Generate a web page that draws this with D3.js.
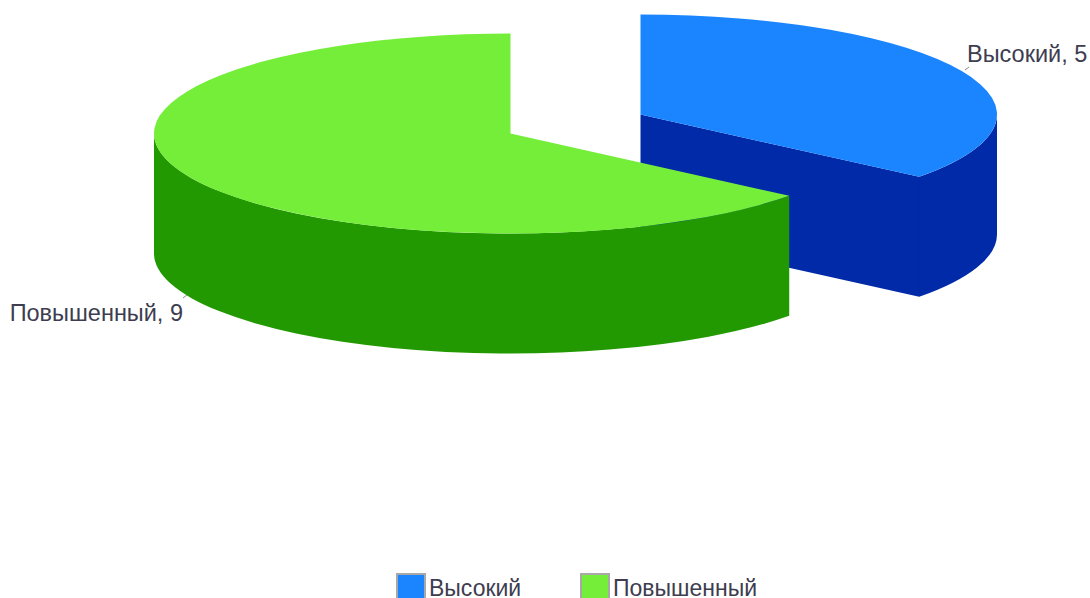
<!DOCTYPE html>
<html><head><meta charset="utf-8">
<script src="https://cdnjs.cloudflare.com/ajax/libs/d3/7.8.5/d3.min.js"></script>
<style>html,body{margin:0;padding:0;background:#fff;overflow:hidden}svg{display:block}text{font-family:"Liberation Sans",Arial,sans-serif;fill:#3d3d4f}</style>
</head><body><svg id="c" width="1090" height="598"></svg>
<script>
const categories = ["Высокий", "Повышенный"];
const seriesValues = [5, 9];
const topColors = ["#1a85ff", "#75ee3a"];
const sideColors = ["#002aa8", "#229900"];

const W = 1090, H = 598, rx = 356.5, ry = 100, depth = 120;
const centers = [[640.5, 114.5], [510.5, 133.5]];
const labelPos = [[967, 62, "start"], [183, 320.5, "end"]];
const leaders = [[[965, 70], [969, 67]], [[183, 298], [187, 295]]];
const legendX = [396, 580];

const svg = d3.select("#c");
const arcs = d3.pie().sort(null).startAngle(0).endAngle(2 * Math.PI)(seriesValues);
const sx = d3.scaleLinear().domain([-1, 1]).range([-rx, rx]);
const sy = d3.scaleLinear().domain([-1, 1]).range([-ry, ry]);
const pt = a => [sx(Math.sin(a)), sy(-Math.cos(a))];

arcs.forEach((d, i) => {
  const [cx, cy] = centers[i];
  const g = svg.append("g").attr("transform", `translate(${cx},${cy})`);
  const wallPath = d3.path();

  // inner wall on the end of the slice that faces the viewer
  if (i === 0) {
    const e = pt(d.endAngle);
    wallPath.moveTo(0, 0); wallPath.lineTo(e[0], e[1]); wallPath.lineTo(e[0], e[1] + depth); wallPath.lineTo(0, depth); wallPath.closePath();
  }
  let wall = wallPath.toString();

  // outer wall: front half of the ellipse within the slice
  const a0 = Math.max(d.startAngle, Math.PI / 2);
  const a1 = Math.min(d.endAngle, 3 * Math.PI / 2);
  if (a1 > a0) {
    const s = pt(a0), e = pt(a1), large = (a1 - a0) > Math.PI ? 1 : 0;
    wall += `M${s[0]},${s[1]}A${rx},${ry} 0 ${large} 1 ${e[0]},${e[1]}` +
      `L${e[0]},${e[1] + depth}A${rx},${ry} 0 ${large} 0 ${s[0]},${s[1] + depth}Z`;
  }
  g.append("path").attr("d", wall).attr("fill", sideColors[i]);
  // seam cover where the inner and outer walls meet
  if (i === 0) {
    const e = pt(d.endAngle);
    g.append("line").attr("x1", e[0]).attr("y1", e[1]).attr("x2", e[0]).attr("y2", e[1] + depth - 1)
      .attr("stroke", sideColors[i]).attr("stroke-width", 1.5);
  }

  // top face
  const arc = d3.arc().innerRadius(0).outerRadius(rx);
  g.append("g").attr("transform", `scale(1,${ry / rx})`)
    .append("path").attr("d", arc(d)).attr("fill", topColors[i]);

  // leader and label
  svg.append("line")
    .attr("x1", leaders[i][0][0]).attr("y1", leaders[i][0][1])
    .attr("x2", leaders[i][1][0]).attr("y2", leaders[i][1][1])
    .attr("stroke", "#8a8a8a").attr("stroke-width", 1);
  svg.append("text").attr("x", labelPos[i][0]).attr("y", labelPos[i][1])
    .attr("text-anchor", labelPos[i][2]).attr("font-size", 23.5)
    .text(`${categories[i]}, ${seriesValues[i]}`);

  // legend
  svg.append("rect").attr("x", legendX[i] + 1).attr("y", 574).attr("width", 28).attr("height", 30)
    .attr("fill", topColors[i]).attr("stroke", "#a8a8a8").attr("stroke-width", 2);
  svg.append("text").attr("x", legendX[i] + 33).attr("y", 595.5).attr("font-size", 23).text(categories[i]);
});
</script></body></html>
